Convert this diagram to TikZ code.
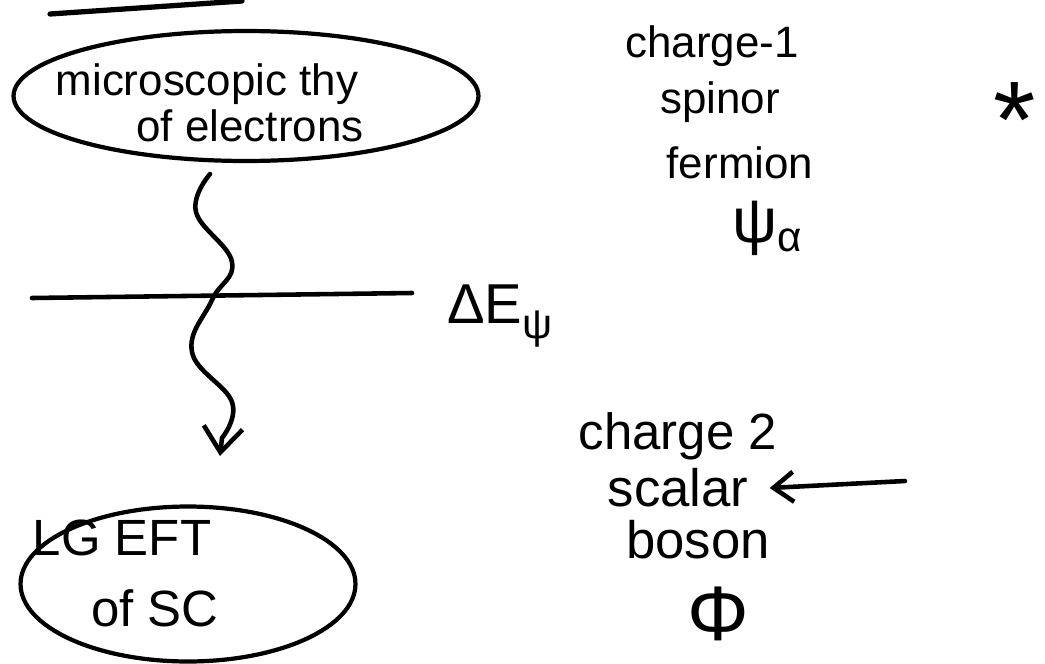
\documentclass[tikz,border=0pt]{standalone}
\usepackage{fontspec}
\setmainfont{Liberation Sans}
\usetikzlibrary{shapes.geometric,arrows.meta}
\newcommand{\fsz}[1]{\fontsize{#1}{#1}\selectfont}
\begin{document}
\begin{tikzpicture}[x=0.02cm,y=-0.02cm,
  pen/.style={line width=2.6pt,line cap=round,line join=round},
  txt/.style={font=\fontsize{25}{29}\selectfont,inner sep=0pt,align=center},
  bigtxt/.style={font=\fontsize{29}{33}\selectfont,inner sep=0pt,align=center},
  bubble/.style={ellipse,draw,line width=2.4pt,inner sep=0pt},
  barb/.style={-{Straight Barb[length=0.5cm,width=0.78cm,line width=2.6pt]}}]
\useasboundingbox (0,0) rectangle (1045,663);
% top stroke
\coordinate (ta) at (50,14);
\coordinate (tb) at (242,1);
\draw[pen,line width=3pt] (ta) -- (tb);
% top bubble
\node[bubble,minimum width=9.3cm,minimum height=2.6cm] (micro) at (246,96) {};
\node[txt] (micro1) at (207,84) {microscopic thy};
\node[txt] (micro2) at (250,126) {of electrons};
% bottom bubble
\node[bubble,minimum width=6.7cm,minimum height=3.1cm] (lg) at (188,584) {};
\node[bigtxt] (lg1) at (122,538) {LG EFT};
\node[bigtxt] (lg2) at (155,608) {of SC};
% wavy arrow
\coordinate (wstart) at (210,174);
\coordinate (wend) at (220,456);
\draw[pen,barb] plot[smooth,tension=0.7] coordinates {(wstart) (196,212) (232,262) (212,300) (192,352) (232,402) (222,438)} -- (wend);
% gap line
\coordinate (gl) at (32,298);
\coordinate (gr) at (412,293);
\draw[pen] (gl) -- (gr);
\node[inner sep=0pt,font=\fsz{32},anchor=base west] (gap) at (447,323) {ΔE\raisebox{-0.28em}{\fsz{24}ψ}};
% fermion
\node[txt] (c1) at (712,46) {charge-1};
\node[txt] (c2) at (720,102) {spinor};
\node[txt] (c3) at (740,163) {fermion};
\node[inner sep=0pt,font=\fsz{36},anchor=base west] (c4) at (732,242) {ψ\raisebox{-0.15em}{\fsz{24}α}};
\node[inner sep=0pt,font=\fsz{62},anchor=north] (star) at (1015,82) {*};
% boson
\node[inner sep=0pt,font=\fsz{29}] (b1) at (678,436) {charge 2};
\node[inner sep=0pt,font=\fsz{30}] (b2) at (678,488) {scalar};
\node[inner sep=0pt,font=\fsz{30}] (b3) at (698,540) {boson};
\node[inner sep=0pt,font=\fsz{44}] (b4) at (718,614) {Φ};
\coordinate (atail) at (905,481);
\draw[pen,-{Straight Barb[length=0.4cm,width=0.6cm,line width=2.6pt]}] (atail) -- ([xshift=0.42cm]b2.east);
\end{tikzpicture}
\end{document}
